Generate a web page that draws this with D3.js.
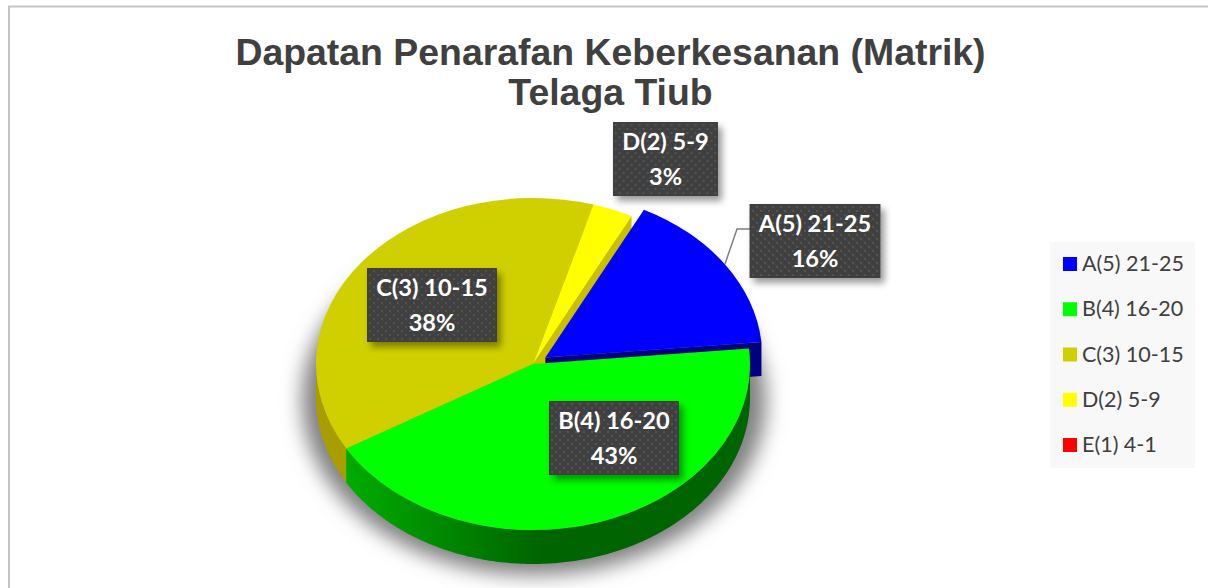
<!DOCTYPE html>
<html>
<head>
<meta charset="utf-8">
<script src="https://cdn.jsdelivr.net/npm/d3@7"></script>
<style>
  html, body { margin: 0; padding: 0; background: #fff; overflow: hidden; }
  svg { display: block; }
</style>
</head>
<body>
<svg id="drawing_region"></svg>
<script>
const titleLines = ["Dapatan Penarafan Keberkesanan (Matrik)", "Telaga Tiub"];
const categories = ["A(5) 21-25", "B(4) 16-20", "C(3) 10-15", "D(2) 5-9", "E(1) 4-1"];
const percents = [16, 43, 38, 3, 0];

const topColors = ["#0000ff", "#00ff00", "#d0d000", "#ffff00", "#ff0000"];
const wallColors = ["#000080", "url(#greenWall)", "#a89e00", "#c8c000", "#800000"];

const width = 1208, height = 588;
const cx = 533, cy = 364, rx = 217, ry = 166, depth = 34;
const explode = 15;                       // only slice A is pulled out
const firstAngle = 27 * Math.PI / 180;

// centre of each data label box, by category index
const labelCentres = [[815, 241], [614, 438], [432, 305], [665.5, 159]];
const labelW = [131, 130, 130, 105], labelH = 74;

const svg = d3.select("#drawing_region").attr("width", width).attr("height", height);
const defs = svg.append("defs");

// gradient is read in the pie group's own coordinates (origin at the pie centre)
const grad = defs.append("linearGradient").attr("id", "greenWall")
  .attr("gradientUnits", "userSpaceOnUse")
  .attr("x1", -188).attr("x2", 10).attr("y1", 0).attr("y2", 0);
grad.append("stop").attr("offset", 0).attr("stop-color", "#00ac00");
grad.append("stop").attr("offset", 1).attr("stop-color", "#006400");

defs.append("filter").attr("id", "pieShadow")
  .attr("x", "-20%").attr("y", "-20%").attr("width", "140%").attr("height", "140%")
  .append("feGaussianBlur").attr("stdDeviation", 10);

defs.append("filter").attr("id", "boxShadow")
  .attr("x", "-15%").attr("y", "-20%").attr("width", "130%").attr("height", "150%")
  .append("feDropShadow")
  .attr("dx", 4).attr("dy", 5).attr("stdDeviation", 3.5)
  .attr("flood-color", "#000").attr("flood-opacity", 0.4);

const dots = defs.append("pattern").attr("id", "dots")
  .attr("width", 8).attr("height", 8).attr("patternUnits", "userSpaceOnUse");
dots.append("rect").attr("width", 8).attr("height", 8).attr("fill", "#404040");
dots.append("rect").attr("x", 1).attr("y", 1).attr("width", 2).attr("height", 2).attr("fill", "#525252");
dots.append("rect").attr("x", 5).attr("y", 5).attr("width", 2).attr("height", 2).attr("fill", "#525252");

// chart frame, only left and top edges fall inside the crop
svg.append("path")
  .attr("d", `M9,${height}V6.5H${width}`)
  .attr("fill", "none").attr("stroke", "#c4c4c4").attr("stroke-width", 2);

svg.append("g").selectAll("text").data(titleLines).enter().append("text")
  .attr("x", 610.5)
  .attr("y", (d, i) => 65 + i * 40)
  .attr("text-anchor", "middle")
  .attr("font-family", "'Liberation Sans'")
  .attr("font-weight", "bold")
  .attr("font-size", 37.4)
  .attr("fill", "#404040")
  .text(d => d);

const pie = d3.pie().sort(null)
  .startAngle(firstAngle).endAngle(firstAngle + 2 * Math.PI)
  .value(d => d.value);
const slices = pie(categories.map((c, i) => ({ name: c, value: percents[i], index: i })));

const arc = d3.arc().innerRadius(0).outerRadius(rx);

const offsetOf = d => {
  if (d.data.index !== 0) return [0, 0];
  const mid = (d.startAngle + d.endAngle) / 2;
  return [explode * Math.sin(mid), -explode * Math.cos(mid) * ry / rx];
};
const rim = a => [rx * Math.sin(a), -ry * Math.cos(a)];

// soft shadow below the whole pie
svg.append("ellipse")
  .attr("cx", cx + 1).attr("cy", cy + depth + 2)
  .attr("rx", rx + 15).attr("ry", ry + 9)
  .attr("fill", "#808080")
  .attr("filter", "url(#pieShadow)");

const wallPath = d => {
  const parts = [];
  const face = a => {
    const p = rim(a);
    return `M0,0L${p[0]},${p[1]}L${p[0]},${p[1] + depth}L0,${depth}Z`;
  };
  if (Math.sin(d.endAngle) > 0) parts.push(face(d.endAngle));
  if (Math.sin(d.startAngle) < 0) parts.push(face(d.startAngle));
  const from = Math.max(d.startAngle, Math.PI / 2);
  const to = Math.min(d.endAngle, 3 * Math.PI / 2);
  if (to > from) {
    const angles = d3.range(from, to, 0.01).concat([to]);
    const front = angles.map(rim);
    const back = angles.slice().reverse().map(a => {
      const p = rim(a);
      return [p[0], p[1] + depth];
    });
    parts.push(d3.line()(front.concat(back)) + "Z");
  }
  return parts.join("");
};

const visible = slices.filter(d => d.value > 0);
const pieG = svg.append("g").attr("transform", `translate(${cx},${cy})`);

// walls first, back to front, then all the top faces over them
const wallOrder = [2, 3, 0, 1];
pieG.selectAll("path.wall").data(wallOrder.map(i => slices[i])).enter().append("path")
  .attr("class", "wall")
  .attr("transform", d => `translate(${offsetOf(d)})`)
  .attr("d", wallPath)
  .attr("fill", d => wallColors[d.data.index]);

pieG.selectAll("path.top").data(visible).enter().append("path")
  .attr("class", "top")
  .attr("transform", d => `translate(${offsetOf(d)}) scale(1,${ry / rx})`)
  .attr("d", arc)
  .attr("fill", d => topColors[d.data.index]);

// leader line for label A
const aRim = rim((slices[0].startAngle + slices[0].endAngle) / 2);
const aOff = offsetOf(slices[0]);
svg.append("path")
  .attr("d", d3.line()([
    [cx + aRim[0] + aOff[0], cy + aRim[1] + aOff[1]],
    [737, 229],
    [750, 229]
  ]))
  .attr("fill", "none").attr("stroke", "#7f7f7f").attr("stroke-width", 1.5);

const labels = svg.append("g").selectAll("g").data(visible).enter().append("g")
  .attr("transform", d => `translate(${labelCentres[d.data.index]})`);

labels.append("rect")
  .attr("x", d => -labelW[d.data.index] / 2)
  .attr("y", -labelH / 2)
  .attr("width", d => labelW[d.data.index])
  .attr("height", labelH)
  .attr("fill", "url(#dots)")
  .attr("filter", "url(#boxShadow)");

labels.append("text")
  .attr("y", -9)
  .attr("text-anchor", "middle")
  .attr("font-family", "Lato")
  .attr("font-weight", "bold")
  .attr("font-size", 23.6)
  .attr("fill", "#fff")
  .text(d => d.data.name);

labels.append("text")
  .attr("y", 26)
  .attr("text-anchor", "middle")
  .attr("font-family", "Lato")
  .attr("font-weight", "bold")
  .attr("font-size", 23.6)
  .attr("fill", "#fff")
  .text(d => d.value + "%");

// legend
const legend = svg.append("g");
legend.append("rect")
  .attr("x", 1050).attr("y", 242).attr("width", 145).attr("height", 226)
  .attr("fill", "#f8f8f8");

const legendY = d3.scalePoint().domain(categories).range([264, 445]);
const rows = legend.selectAll("g.row").data(categories).enter().append("g")
  .attr("class", "row")
  .attr("transform", d => `translate(1063,${legendY(d)})`);

rows.append("rect")
  .attr("y", -7).attr("width", 14).attr("height", 14)
  .attr("fill", (d, i) => topColors[i]);

rows.append("text")
  .attr("x", 19).attr("y", 7)
  .attr("font-family", "Lato")
  .attr("font-size", 21.5)
  .attr("fill", "#404040")
  .text(d => d);
</script>
</body>
</html>
